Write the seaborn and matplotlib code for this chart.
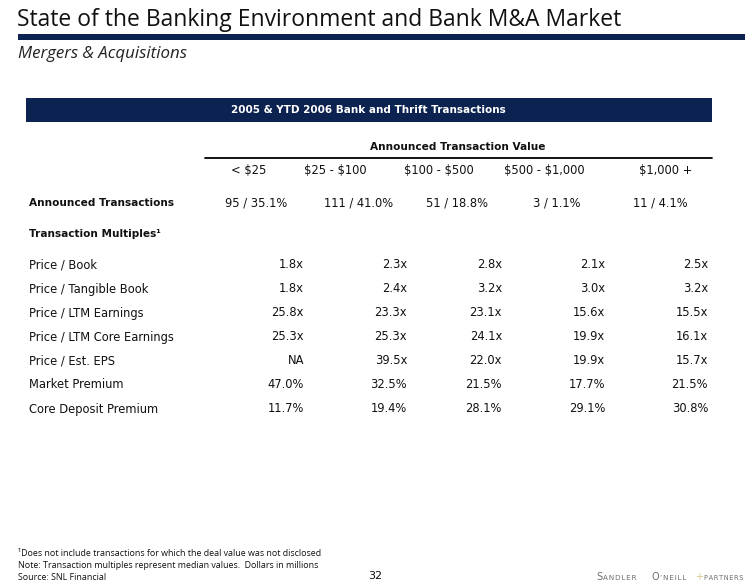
import matplotlib
matplotlib.use("Agg")
import matplotlib.pyplot as plt
import seaborn as sns
from matplotlib.patches import Rectangle

sns.set_theme(style="white")
plt.rcParams['font.family'] = ['DejaVu Sans']
plt.rcParams['text.parse_math'] = False

title = "State of the Banking Environment and Bank M&A Market"
subtitle = "Mergers & Acquisitions"
table_title = "2005 & YTD 2006 Bank and Thrift Transactions"
group_header = "Announced Transaction Value"
columns = ["< $25", "$25 - $100", "$100 - $500", "$500 - $1,000", "$1,000 +"]

announced_label = "Announced Transactions"
announced_counts = [95, 111, 51, 3, 11]
announced_pcts = ["35.1%", "41.0%", "18.8%", "1.1%", "4.1%"]

section_label = "Transaction Multiples\u00b9"
row_labels = ["Price / Book", "Price / Tangible Book", "Price / LTM Earnings",
              "Price / LTM Core Earnings", "Price / Est. EPS", "Market Premium",
              "Core Deposit Premium"]
price_book = ["1.8x", "2.3x", "2.8x", "2.1x", "2.5x"]
price_tbook = ["1.8x", "2.4x", "3.2x", "3.0x", "3.2x"]
price_ltm = ["25.8x", "23.3x", "23.1x", "15.6x", "15.5x"]
price_ltm_core = ["25.3x", "25.3x", "24.1x", "19.9x", "16.1x"]
price_eps = ["NA", "39.5x", "22.0x", "19.9x", "15.7x"]
market_premium = ["47.0%", "32.5%", "21.5%", "17.7%", "21.5%"]
core_deposit_premium = ["11.7%", "19.4%", "28.1%", "29.1%", "30.8%"]
row_values = [price_book, price_tbook, price_ltm, price_ltm_core, price_eps,
              market_premium, core_deposit_premium]

footnotes = ["\u00b9Does not include transactions for which the deal value was not disclosed",
             "Note: Transaction multiples represent median values.  Dollars in millions",
             "Source: SNL Financial"]
page_number = "32"

NAVY = "#0c2250"
INK = "#111111"

fig = plt.figure(figsize=(7.56, 5.87), dpi=100)
ax = fig.add_axes([0, 0, 1, 1])
ax.set_xlim(0, 756)
ax.set_ylim(587, 0)
ax.axis("off")

# header
ax.text(17, 20, title, fontsize=16.5, family="Open Sans", color=INK, va="center", ha="left")
ax.add_patch(Rectangle((18, 34), 727, 5.5, color=NAVY, lw=0))
ax.text(18, 54, subtitle, fontsize=12.2, family="Open Sans", style="italic", color="#222222", va="center")

# table title bar
ax.add_patch(Rectangle((26, 98), 686, 24, color=NAVY, lw=0))
ax.text(368, 110, table_title, fontsize=7.5, weight="bold", color="white", ha="center", va="center")

ax.text(458, 147, group_header, fontsize=7.6, weight="bold", color=INK, ha="center", va="center")
ax.plot([205, 712], [158, 158], color="black", lw=1.3)

col_centers = [249, 335, 439, 544, 666]
col_right = [304, 407, 502, 605, 708]
fs = 8.3
fsb = 7.6
for c, lab in zip(col_centers, columns):
    ax.text(c, 171, lab, fontsize=fs, color=INK, ha="center", va="center")

ax.text(29, 203, announced_label, fontsize=fsb, weight="bold", color=INK, va="center")
ann_centers = [256, 359, 457, 557, 660]
for c, n, p in zip(ann_centers, announced_counts, announced_pcts):
    ax.text(c, 203, f"{n} / {p}", fontsize=fs, color=INK, ha="center", va="center")

ax.text(29, 234, section_label, fontsize=fsb, weight="bold", color=INK, va="center")

y0, dy = 265, 24
for i, (lab, vals) in enumerate(zip(row_labels, row_values)):
    y = y0 + i * dy
    ax.text(29, y, lab, fontsize=fs, color=INK, va="center")
    for r, v in zip(col_right, vals):
        ax.text(r, y, v, fontsize=fs, color=INK, ha="right", va="center")

for i, f in enumerate(footnotes):
    ax.text(18, 553 + i * 12, f, fontsize=6.4, family="Open Sans", color=INK, va="center")
ax.text(375, 576, page_number, fontsize=8, color=INK, ha="center", va="center")

# logo
GREY = "#6f6f6f"
hs = "\u200a"
ax.text(596, 577, "S", fontsize=7, color=GREY, va="center")
ax.text(603, 578, hs.join("ANDLER"), fontsize=5.2, color=GREY, va="center")
ax.text(652, 577, "O", fontsize=7, color=GREY, va="center")
ax.text(660, 578, hs.join("\u2019NEILL"), fontsize=5.2, color=GREY, va="center")
ax.text(695, 577, "+", fontsize=7, color="#d8c890", va="center")
ax.text(704, 578, hs.join("PARTNERS"), fontsize=4.8, color=GREY, va="center")

fig.savefig("out.png", dpi=100)
